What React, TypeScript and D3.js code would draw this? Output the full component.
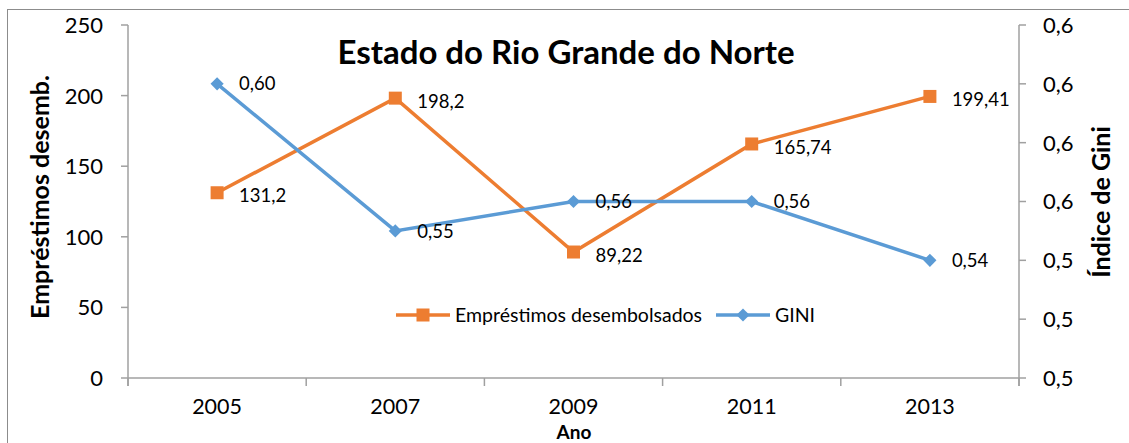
import React from 'react';
import * as d3 from 'd3';

const years = ['2005', '2007', '2009', '2011', '2013'];
const emprestimos = [131.2, 198.2, 89.22, 165.74, 199.41];
const emprestimosLabels = ['131,2', '198,2', '89,22', '165,74', '199,41'];
const gini = [0.6, 0.55, 0.56, 0.56, 0.54];
const giniLabels = ['0,60', '0,55', '0,56', '0,56', '0,54'];
const leftTicks = [0, 50, 100, 150, 200, 250];
const rightTicks = [0.5, 0.52, 0.54, 0.56, 0.58, 0.6, 0.62];

const W = 1129, H = 443;
const plot = { left: 128, right: 1019, top: 25, bottom: 378 };
const ORANGE = '#ED7D31';
const BLUE = '#5B9BD5';
const AXIS = '#A0A0A0';
const FONT = 'Lato, "Open Sans", sans-serif';

export default function App() {
    const x = d3.scaleBand().domain(years).range([plot.left, plot.right]);
    const cx = (d: string) => (x(d) as number) + x.bandwidth() / 2;
    const yL = d3.scaleLinear().domain([0, 250]).range([plot.bottom, plot.top]);
    const yR = d3.scaleLinear().domain([0.5, 0.62]).range([plot.bottom, plot.top]);
    const fmtR = (v: number) => d3.format('.1f')(v).replace('.', ',');

    const lineL = d3.line<number>().x((_, i) => cx(years[i])).y(d => yL(d));
    const lineR = d3.line<number>().x((_, i) => cx(years[i])).y(d => yR(d));
    const boundaries = years.map(y => x(y) as number).concat([plot.right]);

    return (
        <svg width={W} height={H} style={{ position: 'absolute', left: 0, top: 0 }} fontFamily={FONT}>
            <rect x={0} y={0} width={W} height={H} fill="#fff" />
            <rect x={7.5} y={9.5} width={W + 10} height={H + 10} fill="none" stroke="#8c8c8c" />

            {/* left axis */}
            <line x1={plot.left} x2={plot.left} y1={plot.top} y2={plot.bottom + 8} stroke={AXIS} strokeWidth={1.5} />
            {leftTicks.map(t => (
                <g key={t}>
                    <line x1={plot.left - 7} x2={plot.left} y1={yL(t)} y2={yL(t)} stroke={AXIS} strokeWidth={1.5} />
                    <text x={103} y={yL(t)} dy="0.36em" textAnchor="end" fontSize={22}>{t}</text>
                </g>
            ))}

            {/* right axis */}
            <line x1={plot.right} x2={plot.right} y1={plot.top} y2={plot.bottom + 8} stroke={AXIS} strokeWidth={1.5} />
            {rightTicks.map(t => (
                <g key={t}>
                    <line x1={plot.right} x2={plot.right + 7} y1={yR(t)} y2={yR(t)} stroke={AXIS} strokeWidth={1.5} />
                    <text x={1043} y={yR(t)} dy="0.36em" fontSize={22}>{fmtR(t)}</text>
                </g>
            ))}

            {/* bottom axis */}
            <line x1={plot.left} x2={plot.right} y1={plot.bottom} y2={plot.bottom} stroke={AXIS} strokeWidth={1.5} />
            {boundaries.map((b, i) => (
                <line key={i} x1={b} x2={b} y1={plot.bottom} y2={plot.bottom + 8} stroke={AXIS} strokeWidth={1.5} />
            ))}
            {years.map(y => (
                <text key={y} x={cx(y)} y={406} dy="0.36em" textAnchor="middle" fontSize={21.5}>{y}</text>
            ))}

            {/* titles */}
            <text x={574} y={432} dy="0.36em" textAnchor="middle" fontSize={19} fontWeight="bold">Ano</text>
            <text x={566} y={52} dy="0.36em" textAnchor="middle" fontSize={33} fontWeight="bold">Estado do Rio Grande do Norte</text>
            <text transform="translate(40,197) rotate(-90)" dy="0.36em" textAnchor="middle" fontSize={25} fontWeight="bold">Empréstimos desemb.</text>
            <text transform="translate(1101,202) rotate(-90)" dy="0.36em" textAnchor="middle" fontSize={25} fontWeight="bold">Índice de Gini</text>

            {/* series */}
            <path d={lineL(emprestimos) || ''} fill="none" stroke={ORANGE} strokeWidth={3.5} />
            <path d={lineR(gini) || ''} fill="none" stroke={BLUE} strokeWidth={3.5} />
            {emprestimos.map((v, i) => (
                <g key={'e' + i}>
                    <rect x={cx(years[i]) - 6.5} y={yL(v) - 6.5} width={13} height={13} fill={ORANGE} />
                    <text x={cx(years[i]) + 22} y={yL(v) + 3} dy="0.36em" fontSize={18.5}>{emprestimosLabels[i]}</text>
                </g>
            ))}
            {gini.map((v, i) => (
                <g key={'g' + i}>
                    <path d={d3.symbol(d3.symbolDiamond2, 110)() || ''} transform={`translate(${cx(years[i])},${yR(v)})`} fill={BLUE} />
                    <text x={cx(years[i]) + 22} y={yR(v)} dy="0.36em" fontSize={18.5}>{giniLabels[i]}</text>
                </g>
            ))}

            {/* legend */}
            <g transform="translate(0,315)">
                <line x1={396} x2={450} y1={0} y2={0} stroke={ORANGE} strokeWidth={3.5} />
                <rect x={416.5} y={-6.5} width={13} height={13} fill={ORANGE} />
                <text x={455} y={0} dy="0.36em" fontSize={19.5}>Empréstimos desembolsados</text>
                <line x1={716} x2={770} y1={0} y2={0} stroke={BLUE} strokeWidth={3.5} />
                <path d={d3.symbol(d3.symbolDiamond2, 110)() || ''} transform="translate(743,0)" fill={BLUE} />
                <text x={775} y={0} dy="0.36em" fontSize={19.5}>GINI</text>
            </g>
        </svg>
    );
}
